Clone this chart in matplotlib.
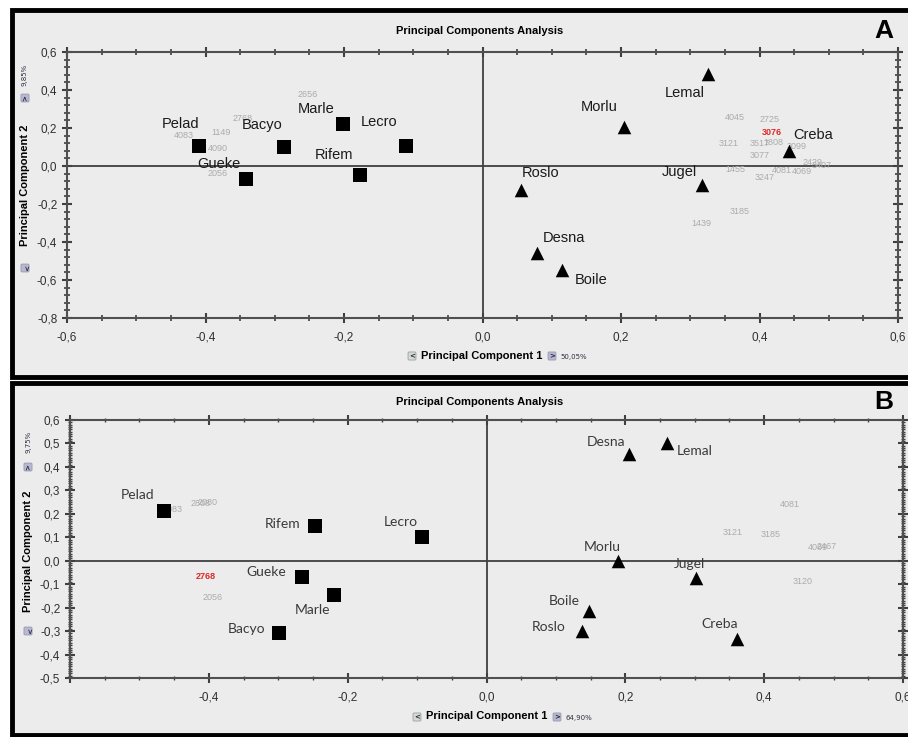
import matplotlib
matplotlib.use("Agg")
import matplotlib.pyplot as plt
from matplotlib.patches import Rectangle
from matplotlib.ticker import MultipleLocator, FuncFormatter

# ---- panel A data ----
a_names = ["Pelad", "Bacyo", "Marle", "Lecro", "Gueke", "Rifem",
           "Roslo", "Desna", "Boile", "Morlu", "Lemal", "Jugel", "Creba"]
a_x = [-0.409, -0.287, -0.202, -0.111, -0.341, -0.177,
       0.056, 0.078, 0.115, 0.205, 0.326, 0.317, 0.442]
a_y = [0.105, 0.100, 0.220, 0.105, -0.068, -0.047,
       -0.126, -0.458, -0.547, 0.205, 0.484, -0.100, 0.080]
a_group = ["sq"] * 6 + ["tri"] * 7
a_var_names = ["2656", "2768", "4083", "1149", "4090", "2056", "4045", "2725",
               "3121", "3517", "1808", "3099", "3077", "1455", "3247", "4081",
               "4069", "2429", "3407", "3185", "1439", "3076"]
a_var_x = [-0.252, -0.346, -0.432, -0.378, -0.382, -0.382, 0.365, 0.414,
           0.356, 0.400, 0.420, 0.454, 0.400, 0.365, 0.408, 0.432,
           0.461, 0.477, 0.490, 0.372, 0.316, 0.418]
a_var_y = [0.374, 0.250, 0.163, 0.174, 0.090, -0.042, 0.253, 0.247,
           0.121, 0.121, 0.126, 0.105, 0.053, -0.016, -0.058, -0.026,
           -0.030, 0.021, 0.000, -0.242, -0.300, 0.174]
a_var_red = ["3076"]

# ---- panel B data ----
b_names = ["Pelad", "Rifem", "Lecro", "Gueke", "Marle", "Bacyo",
           "Desna", "Lemal", "Morlu", "Jugel", "Boile", "Roslo", "Creba"]
b_x = [-0.465, -0.247, -0.093, -0.266, -0.219, -0.299,
       0.206, 0.260, 0.189, 0.302, 0.147, 0.137, 0.361]
b_y = [0.210, 0.150, 0.100, -0.068, -0.145, -0.310,
       0.453, 0.500, 0.000, -0.074, -0.213, -0.300, -0.333]
b_group = ["sq"] * 6 + ["tri"] * 7
b_var_names = ["4083", "2808", "2080", "2056", "4081", "3121", "3185",
               "4069", "2467", "3120", "2768"]
b_var_x = [-0.452, -0.412, -0.402, -0.395, 0.437, 0.355, 0.410,
           0.478, 0.490, 0.455, -0.405]
b_var_y = [0.220, 0.245, 0.250, -0.158, 0.240, 0.120, 0.110,
           0.055, 0.060, -0.090, -0.068]
b_var_red = ["2768"]

# label offsets in pixels (dx, dy) relative to each marker
a_offsets = [(-19, 22), (-22, 22), (-26, 15), (-27, 24), (-27, 15), (-26, 20),
             (19, 17), (27, 15), (29, -10), (-25, 20), (-24, -19), (-23, 13), (25, 16)]
b_offsets = [(-26, 16), (-32, 2), (-21, 15), (-36, 5), (-22, -15), (-32, 4),
             (-23, 12), (28, -8), (-15, 14), (-7, 14), (-24, 10), (-33, 4), (-17, 15)]

BG = "#ECECEC"
W, H = 908, 737


def fx(px):
    return px / W


def fy(py):
    return 1 - py / H


def comma(v, pos):
    if abs(v) < 1e-9:
        v = 0.0
    return f"{v:.1f}".replace(".", ",")


def setup_axes(ax, ylim, ymajor, yminor, hide_first_x=False):
    ax.set_facecolor(BG)
    ax.set_xlim(-0.6, 0.6)
    ax.set_ylim(*ylim)
    ax.xaxis.set_major_locator(MultipleLocator(0.2))
    ax.xaxis.set_minor_locator(MultipleLocator(0.05))
    ax.yaxis.set_major_locator(MultipleLocator(ymajor))
    ax.yaxis.set_minor_locator(MultipleLocator(yminor))
    if hide_first_x:
        ax.xaxis.set_major_formatter(
            FuncFormatter(lambda v, p: "" if v < -0.55 else comma(v, p)))
    else:
        ax.xaxis.set_major_formatter(FuncFormatter(comma))
    ax.yaxis.set_major_formatter(FuncFormatter(comma))
    ax.tick_params(which="major", direction="inout", length=7, width=1.5,
                   color="#404040", labelsize=8.5, labelcolor="#303030",
                   top=True, right=True, labeltop=False, labelright=False)
    ax.tick_params(which="minor", direction="inout", length=4, width=1.2,
                   color="#404040", top=True, right=True)
    ax.tick_params(axis="x", pad=6)
    for lab in ax.get_xticklabels() + ax.get_yticklabels():
        lab.set_family("Liberation Sans")
    for s in ax.spines.values():
        s.set_color("#505050")
        s.set_linewidth(1.5)
    ax.axhline(0, color="#404040", lw=1.3, zorder=1)
    ax.axvline(0, color="#404040", lw=1.3, zorder=1)


def draw_points(ax, names, xs, ys, groups, offsets, font, color, size):
    for n, x, y, g, off in zip(names, xs, ys, groups, offsets):
        m = "s" if g == "sq" else "^"
        ax.scatter([x], [y], marker=m, s=95, color="black", zorder=4,
                   linewidths=0)
        ax.annotate(n, (x, y), xytext=off, textcoords="offset pixels",
                    ha="center", va="center", fontsize=size, color=color,
                    family=font, zorder=5)


def draw_vars(ax, names, xs, ys, reds):
    for n, x, y in zip(names, xs, ys):
        if n in reds:
            ax.text(x, y, n, ha="center", va="center", fontsize=6.5,
                    color="#E02828", fontweight="bold", zorder=3,
                    family="Liberation Sans")
        else:
            ax.text(x, y, n, ha="center", va="center", fontsize=6.5,
                    color="#ABABAB", zorder=3, family="Liberation Sans")


def icon(x, y, ch, fc, rot=0):
    fig.text(fx(x), fy(y), ch, ha="center", va="center", fontsize=5,
             fontweight="bold", color="#202040", rotation=rot,
             bbox=dict(boxstyle="round,pad=0.15", fc=fc, ec="#9090A8", lw=0.5))


fig = plt.figure(figsize=(9.08, 7.37), dpi=100)
fig.patch.set_facecolor("white")

# panel frames
fig.patches.append(Rectangle((fx(12), fy(377)), fx(W + 10) - fx(12), fy(10) - fy(377),
                             transform=fig.transFigure, fc=BG, ec="black", lw=3.5, zorder=-5))
fig.patches.append(Rectangle((fx(12), fy(735)), fx(W + 10) - fx(12), fy(383) - fy(735),
                             transform=fig.transFigure, fc=BG, ec="black", lw=3.5, zorder=-5))

LBL = dict(fontsize=8, fontweight="bold", family="Liberation Sans")

# ---- panel A ----
axA = fig.add_axes([fx(67), fy(318), fx(898) - fx(67), fy(52) - fy(318)])
setup_axes(axA, (-0.8, 0.6), 0.2, 0.04)
draw_vars(axA, a_var_names, a_var_x, a_var_y, a_var_red)
draw_points(axA, a_names, a_x, a_y, a_group, a_offsets, "Liberation Sans", "#1A1A1A", 10.5)

fig.text(fx(480), fy(31), "Principal Components Analysis", ha="center", va="center", **LBL)
fig.text(fx(884), fy(31), "A", ha="center", va="center", fontsize=19, fontweight="bold",
         family="Liberation Sans")
fig.text(fx(482), fy(356), "Principal Component 1", ha="center", va="center", **LBL)
icon(412, 356, "<", "#D4DACC")
icon(552, 356, ">", "#B8B8D0")
fig.text(fx(574), fy(357), "50,05%", ha="center", va="center", fontsize=5, color="#303040")
fig.text(fx(25), fy(185), "Principal Component 2", ha="center", va="center",
         rotation=90, **LBL)
icon(25, 98, ">", "#B8B8D0", rot=90)
icon(25, 268, ">", "#B8B8D0", rot=-90)
fig.text(fx(25), fy(75), "9,85%", ha="center", va="center", fontsize=5,
         color="#303040", rotation=90)

# ---- panel B ----
axB = fig.add_axes([fx(70), fy(678), fx(903) - fx(70), fy(420) - fy(678)])
setup_axes(axB, (-0.5, 0.6), 0.1, 0.01, hide_first_x=True)
axB.tick_params(which="minor", length=3, width=1.0)
draw_vars(axB, b_var_names, b_var_x, b_var_y, b_var_red)
draw_points(axB, b_names, b_x, b_y, b_group, b_offsets, "Lato", "#3A3A3A", 10)

fig.text(fx(480), fy(402), "Principal Components Analysis", ha="center", va="center", **LBL)
fig.text(fx(884), fy(402), "B", ha="center", va="center", fontsize=19, fontweight="bold",
         family="Liberation Sans")
fig.text(fx(487), fy(716), "Principal Component 1", ha="center", va="center", **LBL)
icon(417, 717, "<", "#D4DACC")
icon(557, 717, ">", "#B8B8D0")
fig.text(fx(579), fy(718), "64,90%", ha="center", va="center", fontsize=5, color="#303040")
fig.text(fx(28), fy(551), "Principal Component 2", ha="center", va="center",
         rotation=90, **LBL)
icon(28, 467, ">", "#B8B8D0", rot=90)
icon(28, 631, ">", "#B8B8D0", rot=-90)
fig.text(fx(28), fy(442), "9,75%", ha="center", va="center", fontsize=5,
         color="#303040", rotation=90)

fig.savefig("out.png", dpi=100)
